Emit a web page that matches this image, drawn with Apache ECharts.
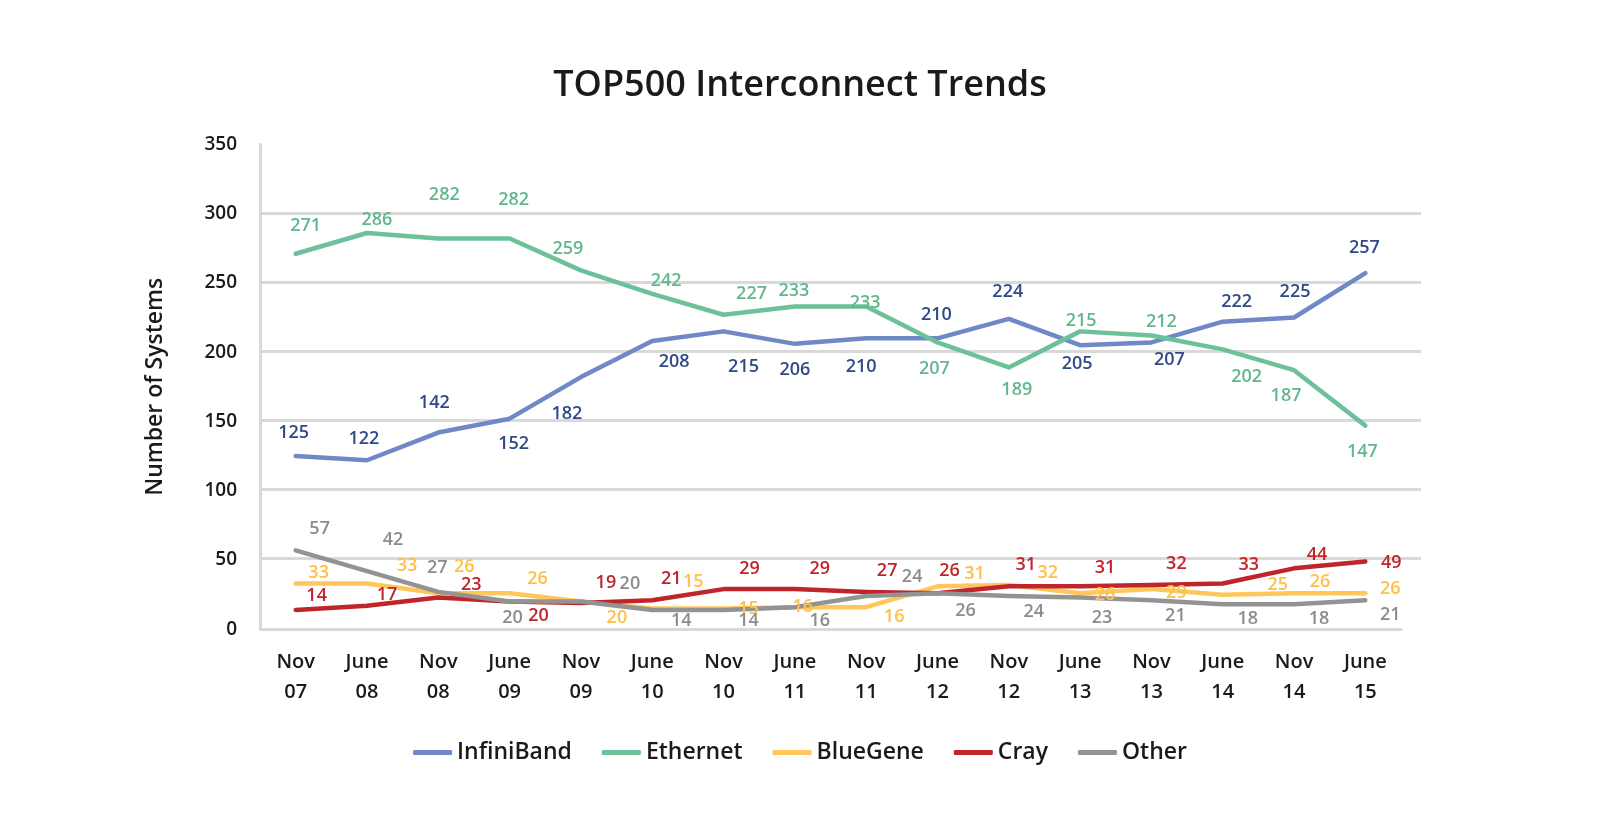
<!DOCTYPE html>
<html>
<head>
<meta charset="utf-8">
<script src="https://cdn.jsdelivr.net/npm/echarts@6/dist/echarts.min.js"></script>
<style>
html,body{margin:0;padding:0;background:#fff;}
#chart{width:1600px;height:828px;}
</style>
</head>
<body>
<div id="chart"></div>
<script>
// ---- data ----
const categories = ['Nov\n07','June\n08','Nov\n08','June\n09','Nov\n09','June\n10','Nov\n10','June\n11','Nov\n11','June\n12','Nov\n12','June\n13','Nov\n13','June\n14','Nov\n14','June\n15'];
const infiniband = [125,122,142,152,182,208,215,206,210,210,224,205,207,222,225,257];
const ethernet   = [271,286,282,282,259,242,227,233,233,207,189,215,212,202,187,147];
const bluegene   = [33,33,26,26,20,15,15,16,16,31,32,26,29,25,26,26];
const cray       = [14,17,23,20,19,21,29,29,27,26,31,31,32,33,44,49];
const other      = [57,42,27,20,20,14,14,16,24,26,24,23,21,18,18,21];
const yTicks = [0,50,100,150,200,250,300,350];

// ---- label nudges in px relative to each point (style only) ----
const nudgeIB  = [[-2,-23],[-3,-21],[-4,-30],[4,25],[-14,37],[22,21],[20,36],[0,26],[-5,29],[-1,-23],[-1,-27],[-3,19],[18,17],[14,-20],[1,-26],[-1,-25]];
const nudgeEth = [[10,-28],[10,-13],[6,-44],[4,-39],[-13,-22],[14,-13],[28,-21],[-1,-16],[-1,-4],[-3,26],[8,22],[1,-10],[10,-14],[24,27],[-8,26],[-3,26]];
const nudgeBG  = [[23,-11],[40,-18],[26,-26],[28,-14],[36,16],[41,-27],[25,0],[8,0],[28,10],[37,-12],[39,-12],[25,2],[25,4],[55,-10],[26,-11],[25,-4]];
const nudgeCr  = [[21,-14],[20,-11],[33,-13],[29,14],[25,-20],[19,-21],[26,-20],[25,-20],[21,-21],[12,-22],[17,-21],[25,-18],[25,-21],[26,-19],[23,-13],[26,1]];
const nudgeOt  = [[24,-21],[26,-31],[-1,-24],[3,16],[49,-18],[29,11],[25,11],[25,14],[46,-19],[28,18],[25,16],[22,20],[24,16],[25,15],[25,15],[25,15]];

const FONT = "'Open Sans', 'Noto Sans', sans-serif";

function mkSeries(name, values, nudges, lineColor, labelColor){
  return {
    name, type:'line', data: values,
    xAxisIndex:0, yAxisIndex:0,
    symbol:'circle', symbolSize:0.1, showSymbol:true, smooth:false,
    lineStyle:{color:lineColor, width:4.5, cap:'round', join:'round'},
    itemStyle:{color:lineColor},
    label:{show:true, position:'inside', color:labelColor, fontFamily:FONT, fontSize:18, fontWeight:600},
    labelLayout:function(p){ const n = nudges[p.dataIndex]; return {hideOverlap:false, dx:n[0], dy:n[1]}; },
    emphasis:{disabled:true}
  };
}

const chart = echarts.init(document.getElementById('chart'), null, {renderer:'canvas'});
chart.setOption({
  backgroundColor:'#ffffff',
  animation:false,
  title:{text:'TOP500 Interconnect Trends', left:'center', top:63,
    textStyle:{fontFamily:FONT, fontSize:36, fontWeight:600, color:'#1a1a1a'}},
  legend:{top:736, left:'center', itemWidth:39, itemHeight:5, itemGap:30, icon:'roundRect',
    textStyle:{fontFamily:FONT, fontSize:23, fontWeight:600, color:'#1a1a1a'},
    data:['InfiniBand','Ethernet','BlueGene','Cray','Other']},
  grid:[
    {left:260, right:199, top:144.3, bottom:198.7, containLabel:false},
    {left:260, right:179, top:213.3, bottom:269.3, containLabel:false}
  ],
  xAxis:[
    {type:'category', gridIndex:0, data:categories, boundaryGap:true,
      axisLine:{show:true, lineStyle:{color:'#d9d9d9', width:3}},
      axisTick:{show:false},
      axisLabel:{fontFamily:FONT, fontSize:20, fontWeight:600, color:'#1a1a1a', lineHeight:30, margin:18, interval:0}},
    {type:'value', gridIndex:1, min:0, max:1, show:false}
  ],
  yAxis:[
    {type:'value', gridIndex:0, min:yTicks[0], max:yTicks[yTicks.length-1], interval:50,
      name:'Number of Systems', nameLocation:'middle', nameGap:93,
      nameTextStyle:{fontFamily:FONT, fontSize:23, fontWeight:600, color:'#1a1a1a'},
      axisLine:{show:true, lineStyle:{color:'#d9d9d9', width:3}},
      axisTick:{show:false},
      splitLine:{show:false},
      axisLabel:{fontFamily:FONT, fontSize:19, fontWeight:600, color:'#1a1a1a', margin:23}},
    {type:'value', gridIndex:1, min:50, max:300, interval:50,
      axisLine:{show:false}, axisTick:{show:false}, axisLabel:{show:false},
      splitLine:{show:true, lineStyle:{color:'#d9d9d9', width:3}}}
  ],
  series:[
    mkSeries('InfiniBand', infiniband, nudgeIB,  '#6f88c6', '#2f4a86'),
    mkSeries('Ethernet',   ethernet,   nudgeEth, '#6cc09a', '#62b88e'),
    mkSeries('BlueGene',   bluegene,   nudgeBG,  '#ffc65a', '#ffbf4a'),
    mkSeries('Cray',       cray,       nudgeCr,  '#c0252c', '#c0252c'),
    mkSeries('Other',      other,      nudgeOt,  '#939393', '#8c8c8c')
  ]
});
</script>
</body>
</html>
